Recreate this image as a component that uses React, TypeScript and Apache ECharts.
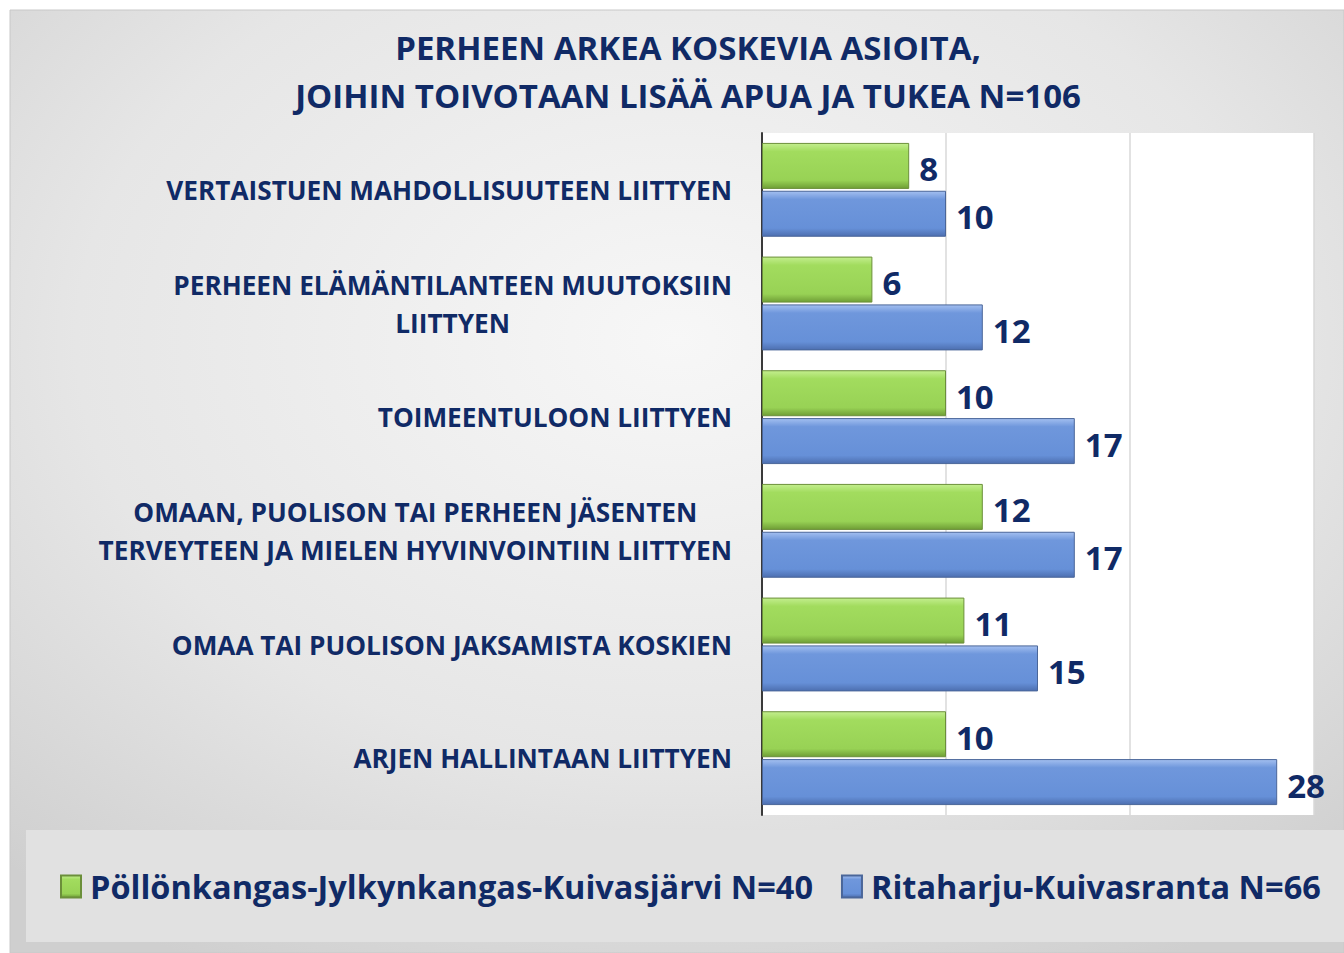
import React, { useEffect, useRef } from "react";
import * as echarts from "echarts";

const categories = [
  "VERTAISTUEN MAHDOLLISUUTEEN LIITTYEN",
  "PERHEEN ELÄMÄNTILANTEEN MUUTOKSIIN\nLIITTYEN",
  "TOIMEENTULOON LIITTYEN",
  "OMAAN, PUOLISON TAI PERHEEN JÄSENTEN\nTERVEYTEEN JA MIELEN HYVINVOINTIIN LIITTYEN",
  "OMAA TAI PUOLISON JAKSAMISTA KOSKIEN",
  "ARJEN HALLINTAAN LIITTYEN",
];
const greenName = "Pöllönkangas-Jylkynkangas-Kuivasjärvi N=40";
const blueName = "Ritaharju-Kuivasranta N=66";
const greenValues = [8, 6, 10, 12, 11, 10];
const blueValues = [10, 12, 17, 17, 15, 28];
const titleLines = ["PERHEEN ARKEA KOSKEVIA ASIOITA,", "JOIHIN TOIVOTAAN LISÄÄ APUA JA TUKEA N=106"];

const NAVY = "#102a66";
const FONT = "'Open Sans', sans-serif";

function grad(c0: string, c1: string, c2: string, c3: string) {
  return new echarts.graphic.LinearGradient(0, 0, 0, 1, [
    { offset: 0, color: c0 },
    { offset: 0.18, color: c1 },
    { offset: 0.82, color: c2 },
    { offset: 1, color: c3 },
  ]);
}

export default function App() {
  const ref = useRef<HTMLDivElement>(null);
  useEffect(() => {
    if (!ref.current) return;
    const chart = echarts.init(ref.current, undefined, { renderer: "svg" });
    const labelStyle = {
      show: true,
      position: "right" as const,
      distance: 10,
      offset: [0, 3],
      fontFamily: FONT,
      fontWeight: "bold" as const,
      fontSize: 33,
      color: NAVY,
    };
    chart.setOption({
      animation: false,
      backgroundColor: "#ffffff",
      graphic: [
        {
          type: "rect",
          z: -10,
          shape: { x: 10, y: 10, width: 1334, height: 943 },
          style: {
            fill: new echarts.graphic.RadialGradient(0.5, 0.35, 0.75, [
              { offset: 0, color: "#f7f7f7" },
              { offset: 0.6, color: "#e6e6e6" },
              { offset: 1, color: "#cfcfcf" },
            ]),
            stroke: "#c8c8c8",
            lineWidth: 1,
          },
        },
        {
          type: "rect",
          z: -9,
          shape: { x: 26, y: 830, width: 1318, height: 112 },
          style: { fill: "#e1e1e1" },
        },
      ],
      title: {
        text: titleLines.join("\n"),
        left: 683,
        textAlign: "center",
        top: 18,
        textStyle: {
          fontFamily: FONT,
          fontWeight: "bold",
          fontSize: 33,
          lineHeight: 48,
          color: NAVY,
        },
      },
      legend: {
        data: [greenName, blueName],
        left: 55,
        top: 865,
        icon: "rect",
        itemWidth: 20,
        itemHeight: 22,
        itemGap: 28,
        textStyle: {
          fontFamily: FONT,
          fontWeight: "bold",
          fontSize: 32.5,
          color: NAVY,
          padding: [0, 0, 0, 4],
        },
      },
      grid: {
        left: 762,
        right: 30,
        top: 133,
        bottom: 138,
        show: true,
        backgroundColor: "#ffffff",
        borderWidth: 0,
      },
      xAxis: {
        type: "value",
        min: 0,
        max: 30,
        interval: 10,
        axisLabel: { show: false },
        axisLine: { show: false },
        axisTick: { show: false },
        splitLine: { lineStyle: { color: "#d9d9d9", width: 1.5 } },
      },
      yAxis: {
        type: "category",
        data: categories,
        inverse: true,
        axisLine: { show: true, lineStyle: { color: "#3a3a3a", width: 2 } },
        axisTick: { show: false },
        axisLabel: {
          margin: 30,
          align: "right",
          formatter: (v: string) => v.split("\n").map((l) => `{c|${l}}`).join("\n"),
          rich: {
            c: {
              align: "center",
              fontFamily: FONT,
              fontWeight: "bold",
              fontSize: 26.2,
              lineHeight: 38,
              color: NAVY,
            },
          },
        },
      },
      series: [
        {
          name: greenName,
          type: "bar",
          data: greenValues,
          barWidth: 46,
          barGap: "4%",
          itemStyle: {
            color: grad("#c3ee8e", "#a2dc5e", "#98d255", "#6f9e36"),
            borderColor: "#6b8f3a",
            borderWidth: 1,
          },
          label: labelStyle,
        },
        {
          name: blueName,
          type: "bar",
          data: blueValues,
          barWidth: 46,
          barGap: "4%",
          itemStyle: {
            color: grad("#a3bff0", "#6f97dc", "#6690d8", "#4d6fb0"),
            borderColor: "#4a6699",
            borderWidth: 1,
          },
          label: labelStyle,
        },
      ],
    });
    return () => chart.dispose();
  }, []);
  return (
    <div
      ref={ref}
      style={{ position: "absolute", left: 0, top: 0, width: 1344, height: 953 }}
    />
  );
}
